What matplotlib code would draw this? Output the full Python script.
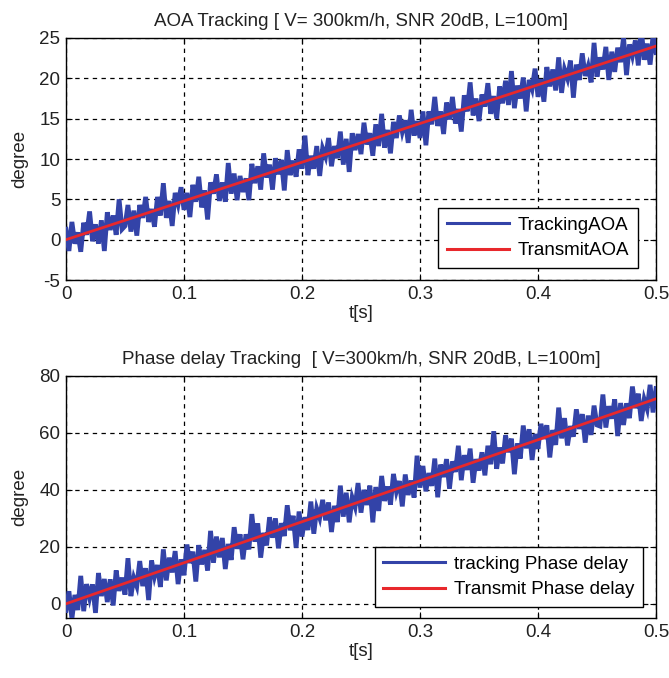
import numpy as np
import matplotlib
matplotlib.use("Agg")
import matplotlib.pyplot as plt

plt.rcParams['font.family'] = ['Liberation Sans', 'DejaVu Sans']
plt.rcParams['axes.unicode_minus'] = False

# ---------------- data ----------------
t_samples = np.linspace(0.0, 0.5, 201)

tracking_aoa = [
    1.3, -1.4, 2.2, -0.5, 0.9, -1.5, 2.1, 0.6, 3.5, -0.2,
    1.9, -0.5, 2.4, -1.4, 3.4, 1.2, 3.0, 0.6, 5.0, 1.3,
    1.7, 4.3, 1.0, 3.6, 0.5, 4.3, 2.7, 5.3, 2.2, 3.8,
    1.6, 5.3, 3.0, 7.0, 2.7, 4.8, 1.7, 5.8, 4.4, 6.5,
    3.7, 5.8, 2.8, 6.8, 4.7, 7.8, 4.0, 6.1, 2.5, 7.1,
    5.7, 8.1, 4.8, 7.1, 4.7, 9.5, 5.7, 8.2, 4.9, 7.9,
    5.9, 7.6, 4.9, 9.4, 7.0, 9.1, 6.2, 10.7, 7.7, 9.3,
    6.2, 10.1, 8.1, 9.9, 6.1, 11.1, 8.0, 9.8, 7.8, 11.2,
    8.8, 12.9, 8.0, 10.4, 8.8, 11.6, 7.9, 11.3, 10.3, 12.6,
    9.1, 11.6, 10.1, 13.4, 9.3, 12.5, 8.4, 13.2, 11.1, 13.1,
    10.6, 14.5, 11.8, 13.2, 10.4, 14.3, 11.6, 15.6, 11.4, 13.6,
    10.7, 14.6, 12.6, 15.4, 13.4, 14.8, 12.0, 16.1, 12.9, 14.7,
    12.6, 15.9, 11.7, 15.9, 14.3, 17.7, 14.1, 15.9, 13.1, 17.0,
    14.9, 17.7, 14.4, 16.2, 13.4, 17.9, 15.9, 19.5, 15.4, 17.5,
    14.7, 18.0, 16.5, 19.4, 15.6, 17.8, 15.0, 19.0, 16.9, 19.7,
    16.7, 20.9, 16.3, 19.1, 17.5, 20.1, 15.9, 19.8, 18.7, 21.2,
    17.7, 19.9, 17.1, 21.4, 19.0, 21.1, 18.5, 22.6, 18.2, 21.1,
    20.0, 22.2, 17.6, 21.7, 19.8, 23.1, 20.3, 21.5, 19.5, 24.4,
    20.2, 22.6, 21.1, 23.9, 19.8, 23.3, 20.8, 23.8, 22.0, 25.1,
    20.4, 24.2, 22.8, 24.7, 21.6, 26.2, 22.3, 24.3, 21.7, 25.3,
    23.2,
]

tracking_phase = [
    -2.4, 4.4, -5.3, 3.1, -2.2, 9.8, -2.6, 6.9, 2.1, 6.8,
    -3.2, 10.8, 2.7, 8.7, 0.6, 8.6, -0.6, 11.7, 4.5, 9.2,
    3.2, 16.0, 2.7, 9.1, 6.2, 15.0, 6.2, 12.5, 1.3, 15.2,
    9.6, 13.6, 5.9, 19.1, 8.2, 16.2, 11.0, 18.5, 6.9, 15.6,
    10.0, 20.8, 14.3, 18.3, 7.8, 20.6, 13.8, 18.9, 11.7, 25.6,
    14.4, 23.6, 16.3, 23.1, 12.2, 21.0, 15.4, 26.9, 19.3, 24.4,
    15.6, 24.4, 19.1, 31.5, 21.8, 28.2, 16.2, 24.9, 20.5, 30.4,
    23.2, 30.0, 19.5, 28.3, 23.8, 34.6, 25.8, 30.9, 19.7, 32.4,
    23.6, 30.4, 25.9, 35.9, 24.6, 33.4, 30.2, 36.5, 29.3, 35.6,
    25.2, 34.4, 28.7, 41.5, 30.6, 39.0, 28.6, 37.3, 34.1, 42.4,
    32.0, 40.0, 34.7, 41.5, 28.6, 41.0, 32.6, 44.9, 36.1, 41.2,
    34.8, 45.6, 39.5, 43.1, 34.2, 45.4, 38.2, 43.3, 37.3, 52.0,
    40.8, 48.4, 39.5, 45.9, 41.4, 51.0, 37.4, 48.9, 44.5, 50.8,
    40.4, 50.0, 46.3, 55.5, 43.4, 52.2, 47.0, 54.5, 42.5, 50.8,
    46.8, 53.2, 45.1, 55.5, 49.0, 60.6, 47.4, 54.9, 49.3, 59.2,
    53.2, 58.0, 45.5, 56.3, 51.0, 62.6, 54.6, 61.3, 50.5, 59.6,
    54.4, 63.2, 57.9, 62.7, 51.4, 61.0, 55.8, 68.9, 58.1, 65.2,
    55.6, 62.4, 58.7, 68.3, 61.4, 66.6, 56.6, 66.1, 59.3, 69.6,
    62.8, 62.4, 73.5, 61.9, 69.4, 65.0, 71.8, 58.9, 70.5, 62.8,
    70.4, 65.2, 76.3, 68.7, 73.8, 64.2, 71.8, 68.5, 76.9, 67.2,
    75.6,
]

t_transmit = [0.0, 0.5]
transmit_aoa = [0.0, 24.0]
transmit_phase = [0.0, 72.0]

x_ticks = [0, 0.1, 0.2, 0.3, 0.4, 0.5]
x_ticklabels = ['0', '0.1', '0.2', '0.3', '0.4', '0.5']
aoa_yticks = [-5, 0, 5, 10, 15, 20, 25]
phase_yticks = [0, 20, 40, 60, 80]

title_top = 'AOA Tracking [ V= 300km/h, SNR 20dB, L=100m]'
title_bot = 'Phase delay Tracking  [ V=300km/h, SNR 20dB, L=100m]'

BLUE = '#3343a8'
RED = '#e8282c'
TXT = '#222222'
FS = 13.5

W, H = 669, 678
fig = plt.figure(figsize=(W/100, H/100), dpi=100)
ax1 = fig.add_axes([66/W, 1-280/H, 590/W, 242/H])
ax2 = fig.add_axes([66/W, 1-618/H, 590/W, 242/H])


def style(ax, yticks, ylim):
    ax.set_xlim(0, 0.5)
    ax.set_ylim(*ylim)
    ax.set_xticks(x_ticks)
    ax.set_xticklabels(x_ticklabels)
    ax.set_yticks(yticks)
    ax.tick_params(direction='in', top=True, right=True, labelsize=FS,
                   length=4, width=0.8, pad=4, colors='black', labelcolor=TXT)
    ax.grid(True, color='black', linestyle=(0, (3.5, 3.5)), linewidth=0.9)
    ax.set_axisbelow(False)
    for s in ax.spines.values():
        s.set_linewidth(1.0)
    ax.set_xlabel('t[s]', fontsize=FS, labelpad=2, color=TXT)
    ax.set_ylabel('degree', fontsize=FS, labelpad=8, color=TXT)


def legend(ax, anchor):
    leg = ax.legend(loc='lower right', bbox_to_anchor=anchor, fontsize=FS,
                    handlelength=3.3, handletextpad=0.5, fancybox=False,
                    framealpha=1, edgecolor='black', borderpad=0.45,
                    labelspacing=0.45, borderaxespad=0.0)
    leg.get_frame().set_linewidth(1.0)
    leg.set_zorder(10)
    for h in leg.get_lines():
        h.set_linewidth(2.2)
    return leg


ax1.plot(t_samples, tracking_aoa, color=BLUE, linewidth=3.4, label='TrackingAOA',
         zorder=3, solid_joinstyle='miter')
ax1.plot(t_transmit, transmit_aoa, color=RED, linewidth=2.0, label='TransmitAOA', zorder=4)
style(ax1, aoa_yticks, (-5, 25))
ax1.set_title(title_top, fontsize=FS, pad=9, color=TXT)
legend(ax1, (0.9695, 0.05))

ax2.plot(t_samples, tracking_phase, color=BLUE, linewidth=3.4, label='tracking Phase delay',
         zorder=3, solid_joinstyle='miter')
ax2.plot(t_transmit, transmit_phase, color=RED, linewidth=2.0, label='Transmit Phase delay', zorder=4)
style(ax2, phase_yticks, (-5, 80))
ax2.set_title(title_bot, fontsize=FS, pad=9, color=TXT)
legend(ax2, (0.978, 0.046))

fig.savefig('out.png', dpi=100)
